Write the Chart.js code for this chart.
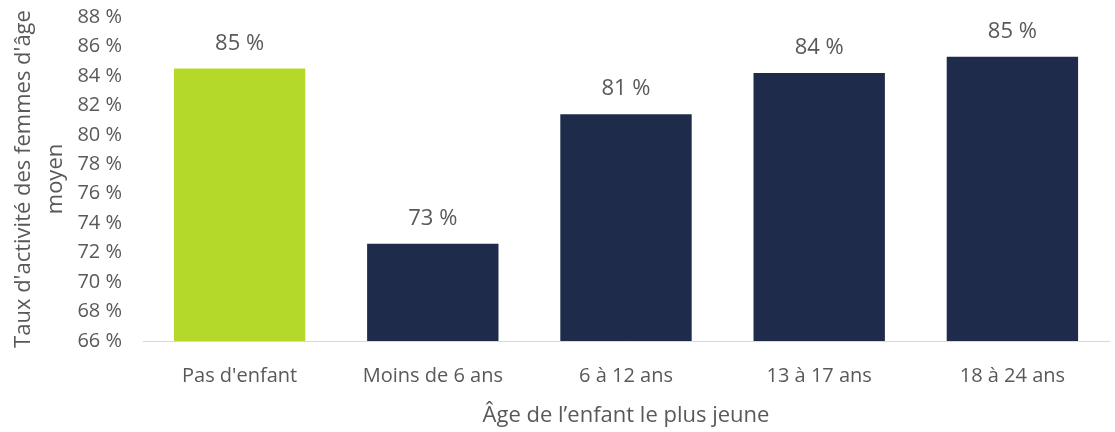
<!DOCTYPE html>
<html>
<head>
<meta charset="utf-8">
<script src="https://cdn.jsdelivr.net/npm/chart.js@4"></script>
<style>
  html, body { margin: 0; padding: 0; background: #fff; }
  #wrap { width: 1115px; height: 432px; position: relative; }
</style>
</head>
<body>
<div id="wrap"><canvas id="barChart"></canvas></div>
<script>
const categories = ["Pas d'enfant", "Moins de 6 ans", "6 à 12 ans", "13 à 17 ans", "18 à 24 ans"];
const rates = [84.5, 72.6, 81.4, 84.2, 85.3];
const barColors = ["#b5d92a", "#1e2b4a", "#1e2b4a", "#1e2b4a", "#1e2b4a"];
const yTitle = ["Taux d'activité des femmes d'âge", "moyen"];
const xTitle = "Âge de l’enfant le plus jeune";

const textColor = "#595959";
const fontFamily = "'Open Sans', 'Noto Sans', sans-serif";

// draws the rounded value above each bar
const valueLabels = {
  id: "valueLabels",
  afterDatasetsDraw(chart) {
    const ctx = chart.ctx;
    const meta = chart.getDatasetMeta(0);
    ctx.save();
    ctx.fillStyle = textColor;
    ctx.font = "22px " + fontFamily;
    ctx.textAlign = "center";
    ctx.textBaseline = "middle";
    meta.data.forEach((bar, i) => {
      ctx.fillText(Math.round(rates[i]) + " %", bar.x, bar.y - 25);
    });
    ctx.restore();
  }
};

const ctx = document.getElementById("barChart").getContext("2d");
new Chart(ctx, {
  type: "bar",
  data: {
    labels: categories,
    datasets: [{
      data: rates,
      backgroundColor: barColors,
      categoryPercentage: 1,
      barPercentage: 0.68
    }]
  },
  options: {
    responsive: true,
    maintainAspectRatio: false,
    animation: false,
    layout: { padding: { top: 0, right: 6, left: 8, bottom: 0 } },
    plugins: {
      legend: { display: false },
      tooltip: { enabled: false }
    },
    scales: {
      x: {
        grid: { display: false, drawTicks: false },
        border: { display: true, color: "#d9d9d9", width: 1 },
        ticks: { color: textColor, font: { family: fontFamily, size: 20, lineHeight: 1 }, padding: 25 },
        title: {
          display: true,
          text: xTitle,
          color: textColor,
          font: { family: fontFamily, size: 22, lineHeight: 1 },
          padding: { top: 19, bottom: 5 }
        },
        afterFit: scale => { scale.height = 91; }
      },
      y: {
        min: 66,
        max: 88,
        grid: { display: false, drawTicks: false },
        border: { display: false },
        ticks: {
          stepSize: 2,
          color: textColor,
          font: { family: fontFamily, size: 20 },
          padding: 21,
          callback: v => v + " %"
        },
        title: {
          display: true,
          text: yTitle,
          color: textColor,
          font: { family: fontFamily, size: 22, lineHeight: 1.45 },
          padding: { top: 0, bottom: 0 }
        },
        afterFit: scale => {
          scale.width = 135;
          scale.paddingTop = 17;
          scale.paddingBottom = 10;
        }
      }
    }
  },
  plugins: [valueLabels]
});
</script>
</body>
</html>
